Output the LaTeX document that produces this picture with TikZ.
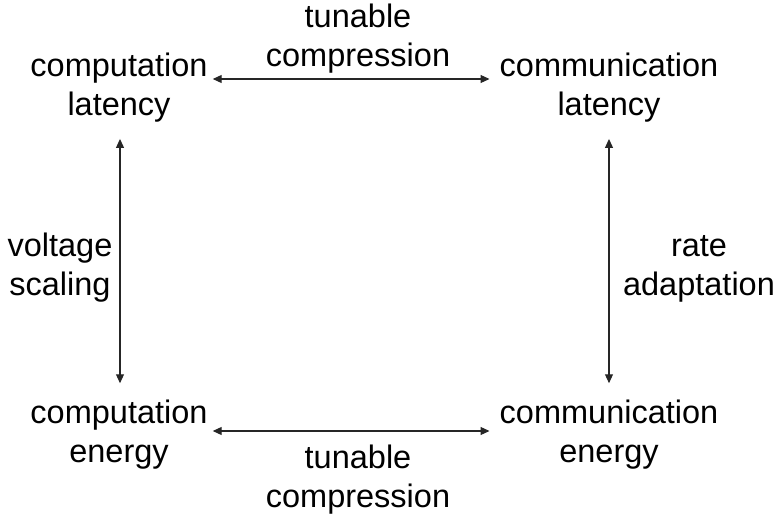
\documentclass[tikz,border=0pt]{standalone}
\usepackage{fontspec}
\setmainfont{Liberation Sans}
\usetikzlibrary{arrows.meta}
\begin{document}
\begin{tikzpicture}[x=1pt,y=-1pt,
  lbl/.style={align=center,inner sep=0pt,anchor=base,font=\fontsize{32.5}{39}\selectfont},
  arr/.style={{Triangle[length=9pt,width=8pt]}-{Triangle[length=9pt,width=8pt]},line width=1.1pt,black!85}]
\useasboundingbox (0,0) rectangle (777,516);
\node[lbl] (cl) at (119,116) {computation\\latency};
\node[lbl] (ml) at (609,116) {communication\\latency};
\node[lbl] (ce) at (119,462) {computation\\energy};
\node[lbl] (me) at (609,462) {communication\\energy};
\node[lbl] (tc1) at (358,67) {tunable\\compression};
\node[lbl] (tc2) at (358,507) {tunable\\compression};
\node[lbl] (vs) at (60,295) {voltage\\scaling};
\node[lbl] (ra) at (699,295) {rate\\adaptation};
\draw[arr,shorten <=5pt,shorten >=10pt] (cl.east |- 0,79) -- (ml.west |- 0,79);
\draw[arr,shorten <=5pt,shorten >=10pt] (ce.east |- 0,431) -- (me.west |- 0,431);
\draw[arr,shorten <=16pt,shorten >=16pt] (cl.south -| 120,0) -- (ce.north -| 120,0);
\draw[arr,shorten <=16pt,shorten >=16pt] (ml.south -| 609,0) -- (me.north -| 609,0);
\end{tikzpicture}
\end{document}
